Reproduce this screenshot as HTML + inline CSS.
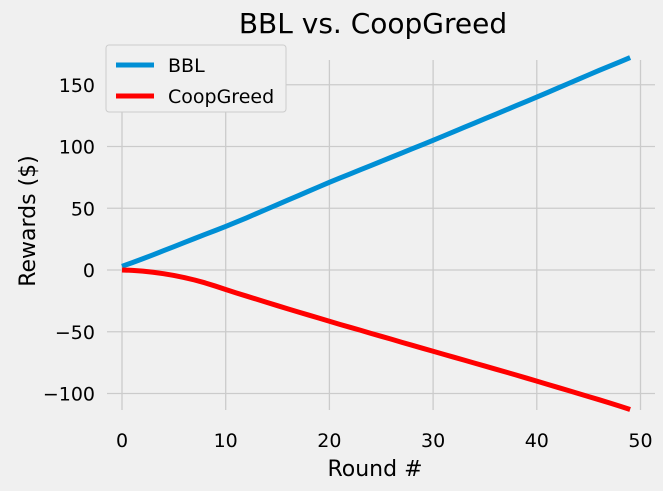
<!DOCTYPE html>
<html><head><meta charset="utf-8"><style>
body{margin:0;background:#f0f0f0;}
svg{display:block;font-family:"DejaVu Sans","Liberation Sans",sans-serif;}
</style></head><body>
<svg id="chart" width="663" height="491" viewBox="0 0 663 491">
<rect width="663" height="491" fill="#f0f0f0"/>
<g id="grid"></g>
<g id="ticks"></g>
<g id="lines"></g>
<text x="373" y="33" font-size="28" text-anchor="middle" fill="#000">BBL vs. CoopGreed</text>
<text x="375" y="476" font-size="22" text-anchor="middle" fill="#000">Round #</text>
<text x="0" y="0" font-size="22" text-anchor="middle" fill="#000" transform="translate(35,221) rotate(-90)">Rewards ($)</text>
<g>
<rect x="106" y="45" width="180" height="67" rx="3" fill="#f0f0f0" stroke="#cccccc"/>
<line x1="116" y1="65" x2="154" y2="65" stroke="#008fd5" stroke-width="5"/>
<text x="168" y="72" font-size="19">BBL</text>
<line x1="116" y1="96" x2="154" y2="96" stroke="#ff0000" stroke-width="5"/>
<text x="168" y="103" font-size="19">CoopGreed</text>
</g>
</svg>
<script>
const xTicks=[0,10,20,30,40,50];
const yTicks=[-100,-50,0,50,100,150];
const yTickLabels=["\u2212100","\u221250","0","50","100","150"];
const bbl=[3,6,9.1,12.3,15.6,18.9,22.2,25.5,28.8,32,35.3,38.7,42.2,45.8,49.4,53,56.6,60.2,63.8,67.4,71,74.4,77.8,81.2,84.6,88,91.4,94.8,98.2,101.6,105,108.5,112,115.5,119,122.5,126,129.5,133,136.5,140,143.6,147.2,150.8,154.4,158,161.6,165,168.5,172];
const coop=[0,-0.3,-0.9,-1.8,-3,-4.4,-6.1,-8.1,-10.4,-13,-15.8,-18.5,-21.1,-23.7,-26.3,-28.9,-31.5,-34,-36.5,-39,-41.5,-44,-46.4,-48.8,-51.3,-53.7,-56.1,-58.6,-61,-63.4,-65.8,-68.2,-70.6,-73,-75.4,-77.8,-80.2,-82.6,-85,-87.5,-90,-92.5,-95,-97.5,-100,-102.5,-105,-107.6,-110.2,-113];
const X=v=>122+v*10.37;
const Y=v=>270-v*1.235;
const NS="http://www.w3.org/2000/svg";
const grid=document.getElementById('grid'),ticks=document.getElementById('ticks'),lines=document.getElementById('lines');
function mk(t,a,p){const e=document.createElementNS(NS,t);for(const k in a)e.setAttribute(k,a[k]);p.appendChild(e);return e;}
xTicks.forEach(v=>{
 const l=mk('line',{x1:X(v),x2:X(v),y1:60,y2:410,stroke:'#cbcbcb','stroke-width':1.3},grid);
 
 
 const t=mk('text',{x:X(v),y:447,'font-size':19,'text-anchor':'middle'},ticks);t.textContent=v;
 
 
});
yTicks.forEach((v,i)=>{
 const l=mk('line',{x1:107,x2:655,y1:Y(v),y2:Y(v),stroke:'#cbcbcb','stroke-width':1.3},grid);
 
 
 const t=mk('text',{x:95,y:Y(v)+7,'font-size':19,'text-anchor':'end'},ticks);t.textContent=yTickLabels[i];
 
 
});
function line(d,c,n){
 const p=mk('polyline',{points:d.map((v,i)=>X(i)+','+Y(v)).join(' '),fill:'none',stroke:c,'stroke-width':5,'stroke-linejoin':'round'},lines);
 
 
}
line(bbl,'#008fd5','bbl-line');
line(coop,'#ff0000','coopgreed-line');
</script>
</body></html>
